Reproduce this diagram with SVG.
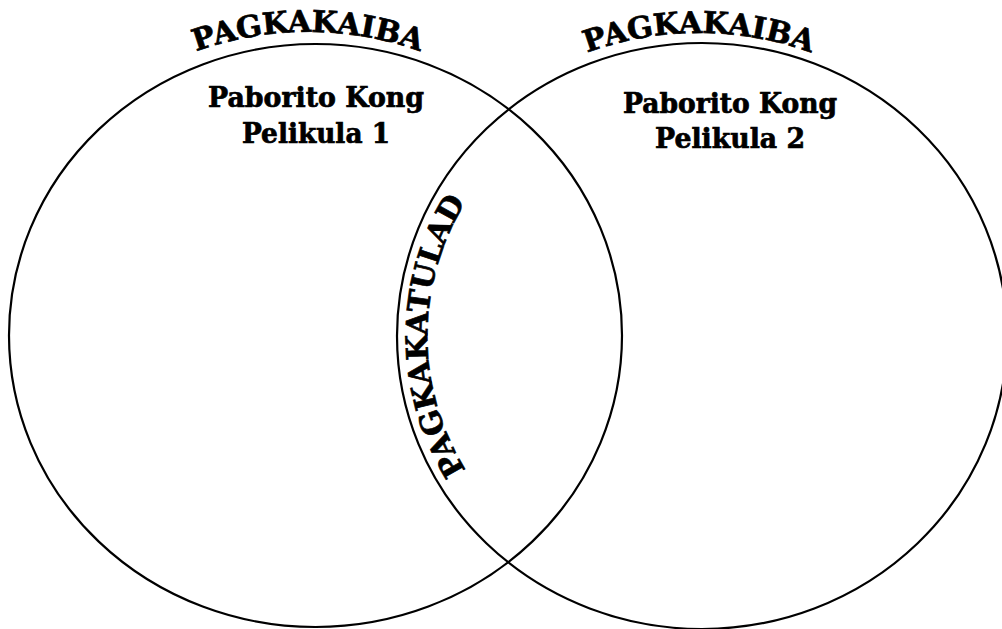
<svg xmlns="http://www.w3.org/2000/svg" xmlns:xlink="http://www.w3.org/1999/xlink" width="1002" height="629" viewBox="0 0 1002 629">
<style>
.ring{fill:none;stroke:#000;stroke-width:2.2}
.t{font-family:"DejaVu Serif","Liberation Serif",serif;font-weight:bold;fill:#000;stroke:#000;stroke-width:0.7}
.lbl{font-size:27px;text-anchor:middle}
.arc{font-size:30px;letter-spacing:0px}
</style>
<defs>
<path id="topL" d="M 108 99.6 A 318 304 0 0 1 508 99.6"/>
<path id="topR" d="M 499 101.9 A 315 303 0 0 1 899 101.9"/>
<path id="side" d="M 608 583 A 275 263 0 0 1 608 89"/>
</defs>
<rect width="1002" height="629" fill="#fff"/>
<g id="connectors"></g>
<g id="left-circle">
<ellipse class="ring" cx="315.5" cy="335.5" rx="306.5" ry="291.5"/>
<text class="t arc"><textPath href="#topL" xlink:href="#topL" startOffset="50%" text-anchor="middle">PAGKAKAIBA</textPath></text>
<text class="t lbl" x="316" y="107" textLength="216" lengthAdjust="spacingAndGlyphs">Paborito Kong</text>
<text class="t lbl" x="316" y="143" textLength="148" lengthAdjust="spacingAndGlyphs">Pelikula 1</text>
</g>
<g id="right-circle">
<ellipse class="ring" cx="702" cy="336" rx="305" ry="293"/>
<text class="t arc"><textPath href="#topR" xlink:href="#topR" startOffset="50%" text-anchor="middle">PAGKAKAIBA</textPath></text>
<text class="t lbl" x="730" y="113" textLength="214" lengthAdjust="spacingAndGlyphs">Paborito Kong</text>
<text class="t lbl" x="730" y="148" textLength="150" lengthAdjust="spacingAndGlyphs">Pelikula 2</text>
</g>
<g id="overlap">
<text class="t arc" style="font-size:30px"><textPath href="#side" xlink:href="#side" startOffset="50%" text-anchor="middle">PAGKAKATULAD</textPath></text>
</g>
</svg>
